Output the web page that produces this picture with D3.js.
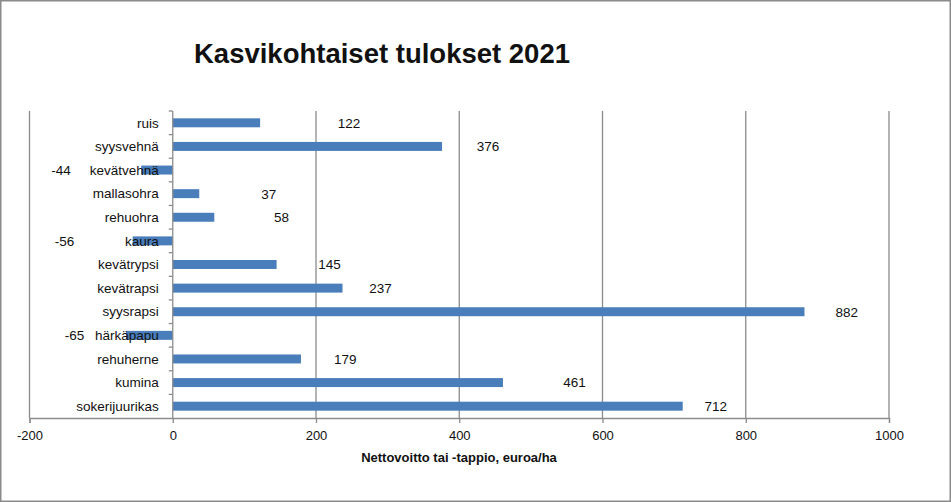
<!DOCTYPE html>
<html>
<head>
<meta charset="utf-8">
<script src="https://cdn.jsdelivr.net/npm/d3@7"></script>
<style>
  html, body { margin: 0; padding: 0; background: #fff; }
  svg text { font-family: "Liberation Sans", Arial, sans-serif; fill: #111; }
</style>
</head>
<body>
<svg id="chart" width="951" height="502"></svg>
<script>
// data
const crops = ["ruis", "syysvehnä", "kevätvehnä", "mallasohra", "rehuohra", "kaura", "kevätrypsi",
               "kevätrapsi", "syysrapsi", "härkäpapu", "rehuherne", "kumina", "sokerijuurikas"];
const result = [122, 376, -44, 37, 58, -56, 145, 237, 882, -65, 179, 461, 712];
// where each data label sits (in euro/ha units, they were dragged by hand in the original)
const labelAt = [246, 440, -156, 134, 152, -151, 219, 290, 941, -137, 241, 561, 758];
const xTicks = [-200, 0, 200, 400, 600, 800, 1000];

const svg = d3.select("#chart");
const W = 951, H = 502;
const plotLeft = 29.5, plotRight = 889, plotTop = 111, plotBottom = 418;

svg.append("rect").attr("x", 0.75).attr("y", 0.75).attr("width", W - 1.5).attr("height", H - 1.5)
  .attr("fill", "#fff").attr("stroke", "#8a8a8a").attr("stroke-width", 1.5);

const x = d3.scaleLinear().domain([-200, 1000]).range([plotLeft, plotRight]);
const y = d3.scaleBand().domain(crops).range([plotTop, plotBottom]).paddingInner(0.62).paddingOuter(0.31);
const yb = d3.scaleBand().domain(crops).range([plotTop, plotBottom]); // full bands for the tick marks

// vertical gridlines (also left/right edge of plot)
svg.append("g").selectAll("line")
  .data(xTicks.filter(d => d !== 0))
  .join("line")
  .attr("x1", d => x(d)).attr("x2", d => x(d))
  .attr("y1", plotTop).attr("y2", plotBottom)
  .attr("stroke", "#8c8c8c").attr("stroke-width", 1.3);

// bars
svg.append("g").selectAll("rect")
  .data(crops)
  .join("rect")
  .attr("x", (d, i) => x(Math.min(0, result[i])))
  .attr("width", (d, i) => Math.abs(x(result[i]) - x(0)))
  .attr("y", d => y(d))
  .attr("height", y.bandwidth())
  .attr("fill", "#4a7ebb");

// bottom axis (plain hyphen minus like excel)
const xAxis = svg.append("g").attr("transform", `translate(0,${plotBottom})`)
  .call(d3.axisBottom(x).tickValues(xTicks).tickSize(5).tickPadding(8).tickFormat(d => String(d)));
xAxis.select(".domain").attr("stroke", "#8c8c8c").attr("stroke-width", 1.3);
xAxis.selectAll(".tick line").attr("stroke", "#8c8c8c").attr("stroke-width", 1.3);
xAxis.selectAll(".tick text").attr("font-size", 13).attr("fill", "#111")
  .attr("font-family", "Liberation Sans, Arial, sans-serif");

// category axis on zero
const zero = svg.append("g");
zero.append("line").attr("x1", x(0)).attr("x2", x(0)).attr("y1", plotTop).attr("y2", plotBottom)
  .attr("stroke", "#8c8c8c").attr("stroke-width", 1.3);
zero.selectAll("line.tk")
  .data(crops)
  .join("line").attr("class", "tk")
  .attr("x1", x(0) - 4).attr("x2", x(0))
  .attr("y1", d => yb(d)).attr("y2", d => yb(d))
  .attr("stroke", "#8c8c8c").attr("stroke-width", 1.3);

// category labels
svg.append("g").selectAll("text")
  .data(crops)
  .join("text")
  .attr("x", x(0) - 14)
  .attr("y", d => y(d) + y.bandwidth() / 2)
  .attr("dy", "0.35em")
  .attr("text-anchor", "end")
  .attr("font-size", 13.5)
  .text(d => d);

// data labels
svg.append("g").selectAll("text")
  .data(crops)
  .join("text")
  .attr("x", (d, i) => x(labelAt[i]))
  .attr("y", d => y(d) + y.bandwidth() / 2)
  .attr("dy", "0.36em")
  .attr("text-anchor", "middle")
  .attr("font-size", 13.5)
  .text((d, i) => result[i]);

// title & axis title
svg.append("text").attr("x", 382).attr("y", 63).attr("text-anchor", "middle")
  .attr("font-size", 27.5).attr("font-weight", "bold").text("Kasvikohtaiset tulokset 2021");
svg.append("text").attr("x", 459).attr("y", 462).attr("text-anchor", "middle")
  .attr("font-size", 13).attr("font-weight", "bold").text("Nettovoitto tai -tappio, euroa/ha");
</script>
</body>
</html>
